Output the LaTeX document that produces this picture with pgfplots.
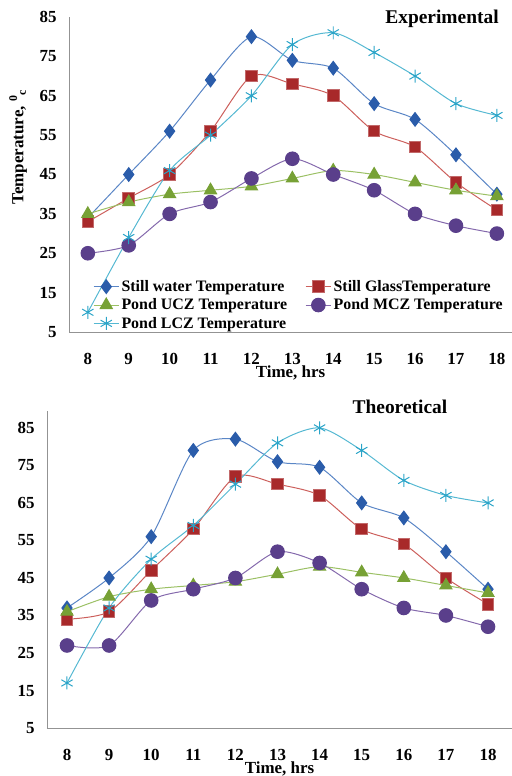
\documentclass[border=0pt]{standalone}
\usepackage{pgfplots}
\pgfplotsset{compat=1.18}
\usepackage{fontspec}
\setmainfont{Liberation Serif}
\definecolor{bluel}{HTML}{5A86C6}
\definecolor{bluem}{HTML}{2A5CAA}
\definecolor{redl}{HTML}{CC5F5C}
\definecolor{redm}{HTML}{A8292A}
\definecolor{greenl}{HTML}{9BC064}
\definecolor{greenm}{HTML}{77A135}
\definecolor{purl}{HTML}{8469AC}
\definecolor{purm}{HTML}{5A3F8B}
\definecolor{cyanl}{HTML}{55B8D2}
\definecolor{cyanm}{HTML}{2AA4C8}
\pgfplotsset{
  myaxis/.style={
    scale only axis,
    axis x line*=bottom, axis y line*=left,
    axis line style={draw=gray!85, line width=1pt},
    major tick length=0pt,
    xtick={8,...,18}, ytick={5,15,...,85},
    ymin=5,
    clip=false,
    /pgf/number format/assume math mode=true,
    ticklabel style={font=\fontsize{17}{17}\selectfont\bfseries},
    xticklabel style={yshift=-18bp},
    yticklabel style={xshift=-9bp},
    xlabel={Time, hrs},
    xlabel style={font=\fontsize{17}{17}\selectfont\bfseries, yshift=6bp},
    every axis plot/.append style={smooth, tension=0.45, line width=1pt},
    legend image code/.code={\draw[mark repeat=2,mark phase=2] plot coordinates {(0cm,0cm) (0.45cm,0cm) (0.9cm,0cm)};},
  },
  sw/.style={color=bluel, mark=diamond*, mark size=6.8bp, mark options={fill=bluem, draw=bluem, solid}},
  sg/.style={color=redl, mark=square*, mark size=5.8bp, mark options={fill=redm, draw=redm!70!white, solid}},
  ucz/.style={color=greenl, mark=triangle*, mark size=7bp, mark options={fill=greenm, draw=greenm, solid}},
  mcz/.style={color=purl, mark=*, mark size=6.8bp, mark options={fill=purm, draw=purm, solid}},
  lcz/.style={color=cyanl, mark=asterisk, mark size=6.5bp, mark options={draw=cyanm, line width=1pt, solid}},
}
\begin{document}
\begin{tikzpicture}
\useasboundingbox (0,0) rectangle (512bp,-776bp);
\begin{axis}[myaxis,
  at={(69bp,-332bp)}, anchor=south west,
  width=443bp, height=315bp,
  xmin=7.54, xmax=18.37, ymax=85,
  ylabel={Temperature, \textsuperscript{0}\textsubscript{c}},
  ylabel style={at={(rel axis cs:-0.115,0.587)}, anchor=center, font=\fontsize{17}{17}\selectfont\bfseries},
  legend columns=2,
  legend cell align=left,
  legend style={at={(rel axis cs:0.047,0.177)}, anchor=north west, draw=none, fill=none,
    font=\fontsize{16}{16}\selectfont\bfseries, row sep=1.8bp,
    /tikz/every even column/.append style={column sep=16bp}},
]
\addplot[sw] coordinates {(8,34) (9,45) (10,56) (11,69) (12,80) (13,74) (14,72) (15,63) (16,59) (17,50) (18,40)};
\addlegendentry{Still water Temperature}
\addplot[sg] coordinates {(8,33) (9,39) (10,45) (11,56) (12,70) (13,68) (14,65) (15,56) (16,52) (17,43) (18,36)};
\addlegendentry{Still GlassTemperature}
\addplot[ucz] coordinates {(8,35) (9,38) (10,40) (11,41) (12,42) (13,44) (14,46) (15,45) (16,43) (17,41) (18,39.5)};
\addlegendentry{Pond UCZ Temperature}
\addplot[mcz] coordinates {(8,25) (9,27) (10,35) (11,38) (12,44) (13,49) (14,45) (15,41) (16,35) (17,32) (18,30)};
\addlegendentry{Pond MCZ Temperature}
\addplot[lcz] coordinates {(8,10) (9,29) (10,46) (11,55) (12,65) (13,78) (14,81) (15,76) (16,70) (17,63) (18,60)};
\addlegendentry{Pond LCZ Temperature}
\node[font=\fontsize{19.5}{19.5}\selectfont\bfseries] at (rel axis cs:0.842,0.994) {Experimental};
\end{axis}
\begin{axis}[myaxis,
  at={(47bp,-728bp)}, anchor=south west,
  width=465bp, height=317bp,
  xmin=7.525, xmax=18.57, ymax=89.5,
]
\addplot[sw] coordinates {(8,37) (9,45) (10,56) (11,79) (12,82) (13,76) (14,74.5) (15,65) (16,61) (17,52) (18,42)};
\addplot[sg] coordinates {(8,34) (9,36) (10,47) (11,58) (12,72) (13,70) (14,67) (15,58) (16,54) (17,45) (18,38)};
\addplot[ucz] coordinates {(8,36) (9,40) (10,42) (11,43) (12,44) (13,46) (14,48) (15,46.5) (16,45) (17,43) (18,41)};
\addplot[mcz] coordinates {(8,27) (9,27) (10,39) (11,42) (12,45) (13,52) (14,49) (15,42) (16,37) (17,35) (18,32)};
\addplot[lcz] coordinates {(8,17) (9,37) (10,50) (11,59) (12,70) (13,81) (14,85) (15,79) (16,71) (17,67) (18,65)};
\node[font=\fontsize{19.5}{19.5}\selectfont\bfseries] at (rel axis cs:0.759,1.013) {Theoretical};
\end{axis}
\end{tikzpicture}
\end{document}
